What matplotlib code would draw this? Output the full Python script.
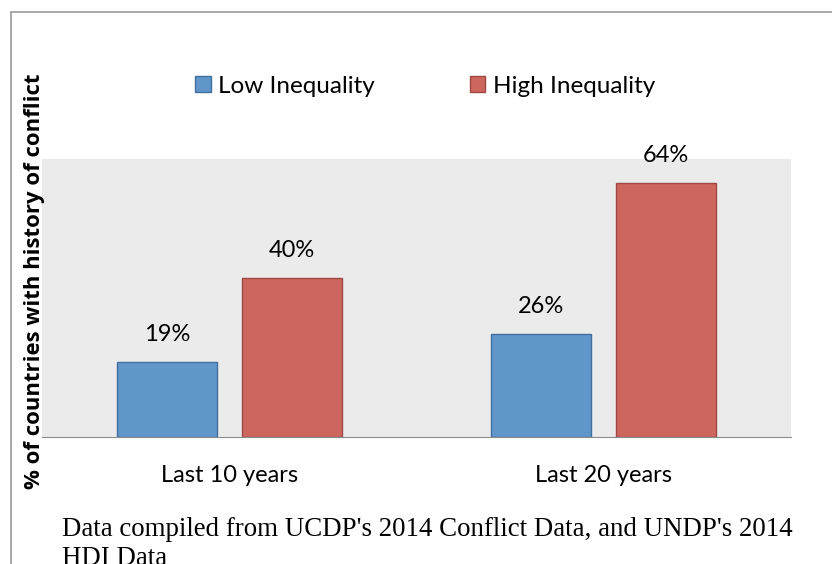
import matplotlib
matplotlib.use('Agg')
import matplotlib.pyplot as plt
import numpy as np
from matplotlib.patches import Rectangle

# data
categories = ['Last 10 years', 'Last 20 years']
low_ineq = [0.19, 0.26]
high_ineq = [0.40, 0.64]
series_names = ['Low Inequality', 'High Inequality']

plt.rcParams['font.family'] = ['Lato', 'DejaVu Sans']

fig = plt.figure(figsize=(8.32, 5.64), dpi=100)
ax = fig.add_axes([42/832, 1-437/564, 749/832, 278/564])

x = np.arange(len(categories))
w = 0.267
off = 0.167
b1 = ax.bar(x - off, low_ineq, w, color='#6096c9', edgecolor='#41709f', linewidth=1, label=series_names[0])
b2 = ax.bar(x + off, high_ineq, w, color='#cc665f', edgecolor='#9f4843', linewidth=1, label=series_names[1])

for bars, vals in [(b1, low_ineq), (b2, high_ineq)]:
    for b, v in zip(bars, vals):
        ax.annotate(f'{v*100:.0f}%', (b.get_x() + b.get_width()/2, v),
                    xytext=(0, 12), textcoords='offset points',
                    ha='center', va='bottom', fontsize=17)

ax.set_xlim(-0.5, 1.5)
ax.set_ylim(0, 0.70)
ax.set_facecolor('#ebebeb')
for s in ['top', 'left', 'right']:
    ax.spines[s].set_visible(False)
ax.spines['bottom'].set_color('#8c8c8c')
ax.set_yticks([])
ax.set_xticks(x)
ax.set_xticklabels(categories, fontsize=17)
ax.tick_params(axis='x', length=0, pad=20)

fig.legend(handles=[b1, b2], loc='center', bbox_to_anchor=(425/832, 1-86/564),
           ncol=2, frameon=False, fontsize=17.5, handlelength=0.65, handleheight=0.65,
           handletextpad=0.3, columnspacing=3.9)

fig.text(35/832, 1-281/564, '% of countries with history of conflict', rotation=90,
         ha='center', va='center', fontsize=15.9, fontweight='bold', family=['Open Sans', 'DejaVu Sans'])

# caption (second line is cut by the bottom edge in the original too)
fig.text(62/832, 1-517/564, "Data compiled from UCDP's 2014 Conflict Data, and UNDP's 2014\nHDI Data",
         ha='left', va='top', fontsize=19.4, family='Liberation Serif', linespacing=1.2)

# outer chart border
fig.patches.append(Rectangle((11/832, -0.1), 1.0, 1-12/564 + 0.1, transform=fig.transFigure,
                             fill=False, edgecolor='#9a9a9a', linewidth=1.2))

fig.savefig('out.png', dpi=100)
